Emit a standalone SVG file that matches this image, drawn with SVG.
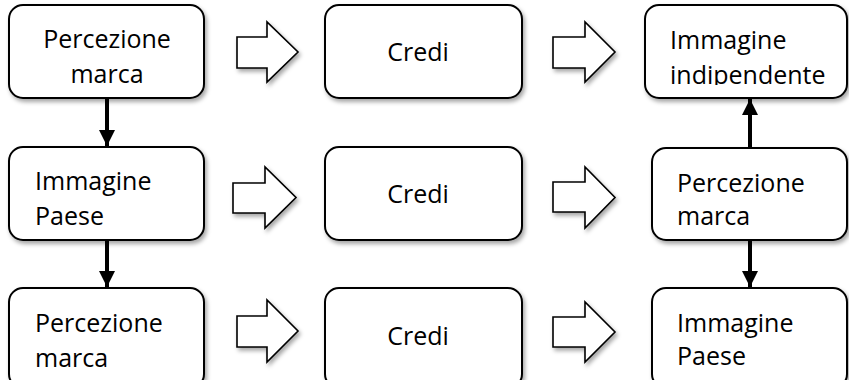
<svg xmlns="http://www.w3.org/2000/svg" width="849" height="380" viewBox="0 0 849 380">
<style>
.box{fill:#fff;stroke:#000;stroke-width:2;filter:url(#sh)}
.blk{fill:#fff;stroke:#000;stroke-width:1.6;stroke-linejoin:miter;filter:url(#sh)}
.t{font-family:"Open Sans","DejaVu Sans",sans-serif;font-size:25px;fill:#000}
.c{text-anchor:middle}
.con{stroke:#000;stroke-width:4;fill:none}
</style>
<defs>
<filter id="sh" x="-10%" y="-10%" width="125%" height="130%">
<feDropShadow dx="2" dy="3" stdDeviation="2" flood-color="#000" flood-opacity="0.35"/>
</filter>
<marker id="ah" viewBox="0 0 10 10" refX="10" refY="5" markerWidth="4" markerHeight="4" markerUnits="strokeWidth" orient="auto">
<path d="M0,0 L10,5 L0,10 z" fill="#000"/>
</marker>
<clipPath id="clipTR"><rect x="645" y="5" width="203" height="80"/></clipPath>
</defs>
<rect width="849" height="380" fill="#fff"/>

<g id="n1"><rect class="box" x="9" y="5" width="195" height="93" rx="14"/>
<text class="t c" x="107" y="48">Percezione</text><text class="t c" x="107" y="83">marca</text></g>
<g id="n2"><rect class="box" x="9" y="147" width="195" height="93" rx="14"/>
<text class="t" x="35" y="190">Immagine</text><text class="t" x="35" y="225">Paese</text></g>
<g id="n3"><rect class="box" x="9" y="288" width="195" height="100" rx="14"/>
<text class="t" x="35" y="332">Percezione</text><text class="t" x="35" y="367">marca</text></g>

<g id="n4"><rect class="box" x="325" y="5" width="197" height="93" rx="14"/>
<text class="t c" x="418" y="61">Credi</text></g>
<g id="n5"><rect class="box" x="325" y="147" width="197" height="93" rx="14"/>
<text class="t c" x="418" y="203">Credi</text></g>
<g id="n6"><rect class="box" x="325" y="288" width="197" height="100" rx="14"/>
<text class="t c" x="418" y="345">Credi</text></g>

<g id="n7"><rect class="box" x="645" y="5" width="202" height="93" rx="14"/>
<g clip-path="url(#clipTR)"><text class="t" x="670" y="49">Immagine</text><text class="t" x="670" y="84">indipendente</text></g></g>
<g id="n8"><rect class="box" x="652" y="148" width="195" height="92" rx="14"/>
<text class="t" x="677" y="192">Percezione</text><text class="t" x="677" y="225">marca</text></g>
<g id="n9"><rect class="box" x="652" y="288" width="195" height="100" rx="14"/>
<text class="t" x="677" y="332">Immagine</text><text class="t" x="677" y="365">Paese</text></g>

<g id="blockarrows">
<polygon class="blk" points="237,37 267,37 267,22 298,52 267,82 267,68 237,68"/>
<polygon class="blk" points="233,183 265,183 265,167 296,197.5 265,228 265,213 233,213"/>
<polygon class="blk" points="237,316 267,316 267,300 298,331 267,362 267,347 237,347"/>
<polygon class="blk" points="553,37 585,37 585,22 615,52 585,82 585,68 553,68"/>
<polygon class="blk" points="553,182 585,182 585,167 615,197.5 585,228 585,212 553,212"/>
<polygon class="blk" points="553,317 585,317 585,302 615,332 585,362 585,347 553,347"/>
</g>

<g id="connectors">
<line class="con" x1="107" y1="99" x2="107" y2="146" marker-end="url(#ah)"/>
<line class="con" x1="107" y1="241" x2="107" y2="287" marker-end="url(#ah)"/>
<line class="con" x1="750" y1="147" x2="750" y2="99" marker-end="url(#ah)"/>
<line class="con" x1="750" y1="241" x2="750" y2="287" marker-end="url(#ah)"/>
</g>
</svg>
